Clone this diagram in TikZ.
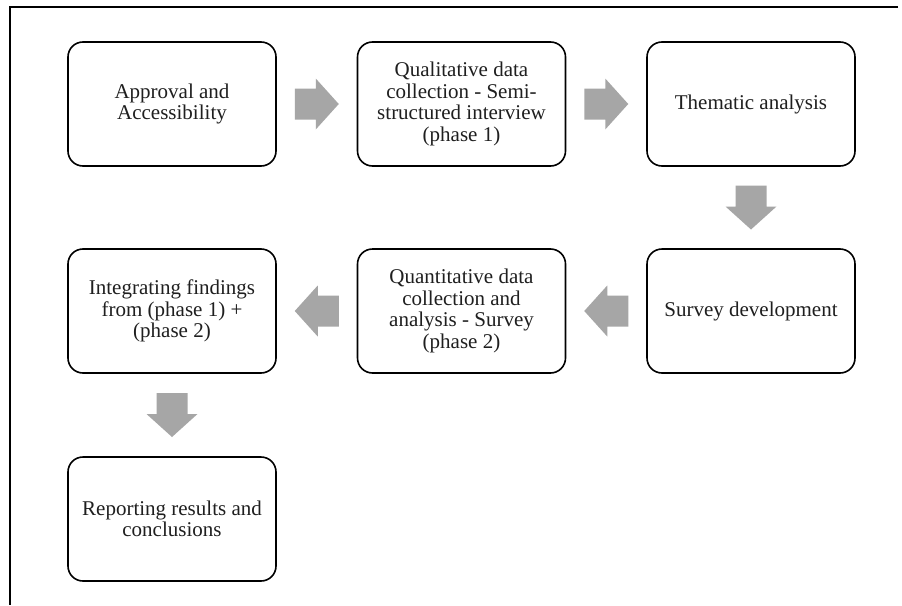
\documentclass[tikz,border=0pt]{standalone}
\usepackage{fontspec}
\setmainfont{Liberation Serif}
\begin{document}
\begin{tikzpicture}[x=1pt,y=-1pt,
  every node/.style={font=\fontsize{21}{21.5}\selectfont, text=black!88},
  stepbox/.style={draw=black, line width=1.6pt, rounded corners=15pt,
    minimum width=208pt, minimum height=124pt, align=center, inner sep=0pt},
  frameline/.style={draw=black, line width=2pt},
  blockarrow/.pic={\fill[black!35] (-22,-15.5) -- (-1,-15.5) -- (-1,-25.5) -- (22,0) -- (-1,25.5) -- (-1,15.5) -- (-22,15.5) -- cycle;}
]
\useasboundingbox (0,0) rectangle (902,605);
\fill[white] (0,0) rectangle (902,605);
\coordinate (fA) at (9.5,7);
\coordinate (fB) at (898,7);
\coordinate (fC) at (9.5,605);
\draw[frameline] (fB) -- (fA) -- (fC);

\node[stepbox] (a) at (172,104) {Approval and\\Accessibility};
\node[stepbox] (b) at (461.5,104) {Qualitative data\\collection - Semi-\\structured interview\\(phase 1)};
\node[stepbox] (c) at (751,104) {Thematic analysis};
\node[stepbox] (f) at (751,311) {Survey development};
\node[stepbox] (e) at (461.5,311) {Quantitative data\\collection and\\analysis - Survey\\(phase 2)};
\node[stepbox] (d) at (172,311) {Integrating findings\\from (phase 1) +\\(phase 2)};
\node[stepbox] (g) at (172,519) {Reporting results and\\conclusions};

\path (a.east) -- (b.west) pic[pos=0.5, sloped, allow upside down]{blockarrow};
\path (b.east) -- (c.west) pic[pos=0.5, sloped, allow upside down]{blockarrow};
\path (c.south) -- (f.north) pic[pos=0.5, sloped, allow upside down]{blockarrow};
\path (f.west) -- (e.east) pic[pos=0.5, sloped, allow upside down]{blockarrow};
\path (e.west) -- (d.east) pic[pos=0.5, sloped, allow upside down]{blockarrow};
\path (d.south) -- (g.north) pic[pos=0.5, sloped, allow upside down]{blockarrow};
\end{tikzpicture}
\end{document}
